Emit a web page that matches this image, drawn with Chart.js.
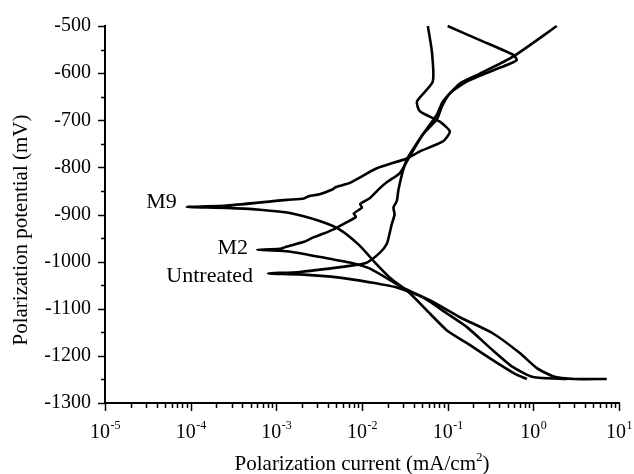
<!DOCTYPE html>
<html>
<head>
<meta charset="utf-8">
<script src="https://cdn.jsdelivr.net/npm/chart.js@4/dist/chart.umd.min.js"></script>
<style>
  body { margin: 0; background: #fff; }
</style>
</head>
<body>
<canvas id="polChart" width="634" height="474"></canvas>
<script>
// curves run from the cathodic end (-1250 mV) through Ecorr up to -500 mV
let m9Current = [0.84, 0.61, 0.336, 0.168, 0.098, 0.062, 0.0362, 0.0212, 0.0142, 0.0094, 0.0055, 0.0032, 0.00144, 0.00064, 0.000265, 0.00009,
  0.000265, 0.00133, 0.0021, 0.0024, 0.0032, 0.0045, 0.0049, 0.0072, 0.0149, 0.0334, 0.0474, 0.088, 0.106, 0.081, 0.0474, 0.0438, 0.067, 0.0655, 0.0587];
let m9Potential = [-1249, -1238, -1209, -1173, -1146, -1110, -1067, -1034, -1002, -966, -932, -914, -897, -890, -886, -884,
  -881, -869, -866, -861, -857, -847, -842, -833, -802, -781, -766, -745, -724, -703, -681, -660, -618, -555, -500];

let m2Current = [7.2, 3.05, 1.69, 1.10, 0.695, 0.336, 0.139, 0.062, 0.030, 0.0124, 0.0072, 0.0042, 0.00174, 0.0011, 0.000594,
  0.0011, 0.00133, 0.0021, 0.00267, 0.0035, 0.00457, 0.00667, 0.0085, 0.0080, 0.0100, 0.0095, 0.0124, 0.0162, 0.0200, 0.0277, 0.0362,
  0.0514, 0.0748, 0.0855, 0.106, 0.159, 0.31, 0.53, 0.64, 0.58, 0.238, 0.1];
let m2Potential = [-1249, -1249, -1243, -1226, -1194, -1152, -1118, -1082, -1055, -1015, -1002, -994, -981, -977, -975,
  -973, -968, -958, -949, -941, -932, -916, -905, -898, -885, -878, -865, -844, -830, -812, -776,
  -730, -698, -671, -643, -620, -597, -580, -572, -561, -530, -500];

let untreatedCurrent = [2.46, 0.99, 0.58, 0.336, 0.168, 0.098, 0.0514, 0.0255, 0.0124, 0.0055, 0.00188, 0.0008,
  0.00188, 0.0078, 0.0114, 0.0162, 0.0195, 0.0210, 0.0223, 0.0240, 0.0233, 0.0255, 0.0265, 0.0277, 0.030, 0.0334,
  0.050, 0.0748, 0.088, 0.139, 0.238, 0.58, 1.88];
let untreatedPotential = [-1249, -1245, -1224, -1188, -1139, -1110, -1076, -1055, -1044, -1034, -1027, -1025,
  -1022, -1008, -1002, -981, -962, -940, -920, -900, -885, -871, -850, -833, -808, -783,
  -733, -688, -660, -622, -601, -565, -500];

let seriesNames = ["M9", "M2", "Untreated"];
let xDecades = [1e-5, 1e-4, 1e-3, 1e-2, 1e-1, 1e0, 1e1];
let xExponents = ["-5", "-4", "-3", "-2", "-1", "0", "1"];
let yTickValues = [-1300, -1200, -1100, -1000, -900, -800, -700, -600, -500];

function toPoints(xs, ys) {
  return xs.map((x, i) => ({x: x, y: ys[i]}));
}

function lineSet(label, xs, ys) {
  return {
    label: label,
    data: toPoints(xs, ys),
    showLine: true,
    borderColor: '#000',
    backgroundColor: '#000',
    borderWidth: 2.6,
    pointRadius: 0,
    tension: 0.2,
    clip: false
  };
}

const serif = 'Liberation Serif, Times New Roman, serif';

// tick marks, x labels with exponents, axis titles and curve labels
const decorPlugin = {
  id: 'decor',
  afterDraw(chart) {
    const ctx = chart.ctx;
    const xs = chart.scales.x, ys = chart.scales.y;
    const area = chart.chartArea;
    ctx.save();
    ctx.strokeStyle = '#000';
    ctx.fillStyle = '#000';
    ctx.lineWidth = 1.5;

    // y ticks every 50, long at hundreds
    for (let v = -1300; v <= -500; v += 50) {
      const py = Math.round(ys.getPixelForValue(v)) + 0.5;
      const len = (v % 100 === 0) ? 7 : 4;
      ctx.beginPath();
      ctx.moveTo(area.left, py);
      ctx.lineTo(area.left - len, py);
      ctx.stroke();
    }

    // x ticks, decades long, 2..9 short
    xDecades.forEach((d, k) => {
      const px = Math.round(xs.getPixelForValue(d)) + 0.5;
      ctx.beginPath();
      ctx.moveTo(px, area.bottom);
      ctx.lineTo(px, area.bottom + 8);
      ctx.stroke();
      if (k < xDecades.length - 1) {
        for (let m = 2; m <= 9; m++) {
          const mx = Math.round(xs.getPixelForValue(d * m)) + 0.5;
          ctx.beginPath();
          ctx.moveTo(mx, area.bottom);
          ctx.lineTo(mx, area.bottom + 5);
          ctx.stroke();
        }
      }
      // label 10^k
      const bigFont = '20px ' + serif, smallFont = '12px ' + serif;
      ctx.font = bigFont;
      const wBase = ctx.measureText('10').width;
      ctx.font = smallFont;
      const wExp = ctx.measureText(xExponents[k]).width;
      const start = xs.getPixelForValue(d) - (wBase + wExp) / 2;
      ctx.textAlign = 'left';
      ctx.textBaseline = 'alphabetic';
      ctx.font = bigFont;
      ctx.fillText('10', start, 438);
      ctx.font = smallFont;
      ctx.fillText(xExponents[k], start + wBase + 0.5, 429);
    });

    // x title with superscript 2
    ctx.font = '21px ' + serif;
    const t1 = 'Polarization current (mA/cm', t3 = ')';
    const w1 = ctx.measureText(t1).width, w3 = ctx.measureText(t3).width;
    ctx.font = '13px ' + serif;
    const w2 = ctx.measureText('2').width;
    let sx = (area.left + area.right) / 2 - (w1 + w2 + w3) / 2;
    ctx.font = '21px ' + serif;
    ctx.fillText(t1, sx, 470);
    ctx.font = '13px ' + serif;
    ctx.fillText('2', sx + w1, 461);
    ctx.font = '21px ' + serif;
    ctx.fillText(t3, sx + w1 + w2, 470);

    // y title
    ctx.save();
    ctx.translate(27, 230);
    ctx.rotate(-Math.PI / 2);
    ctx.textAlign = 'center';
    ctx.font = '21px ' + serif;
    ctx.fillText('Polarization potential (mV)', 0, 0);
    ctx.restore();

    // curve names next to each corrosion-potential spike
    const offsets = [[-10, 1], [-9, 4], [-15, 9]];
    ctx.font = '22px ' + serif;
    ctx.textAlign = 'right';
    chart.data.datasets.forEach((ds, i) => {
      let tip = ds.data[0];
      ds.data.forEach(p => { if (p.x < tip.x) tip = p; });
      const px = xs.getPixelForValue(tip.x) + offsets[i][0];
      const py = ys.getPixelForValue(tip.y) + offsets[i][1];
      ctx.fillText(seriesNames[i], px, py);
    });
    ctx.restore();
  }
};

let polChart = new Chart(document.getElementById('polChart'), {
  type: 'scatter',
  data: {
    datasets: [
      lineSet(seriesNames[0], m9Current, m9Potential),
      lineSet(seriesNames[1], m2Current, m2Potential),
      lineSet(seriesNames[2], untreatedCurrent, untreatedPotential)
    ]
  },
  options: {
    responsive: false,
    animation: false,
    devicePixelRatio: 1,
    layout: {padding: {top: 24, right: 15, left: 0, bottom: 0}},
    plugins: {
      legend: {display: false},
      tooltip: {enabled: false}
    },
    scales: {
      x: {
        type: 'logarithmic',
        min: 1e-5,
        max: 10,
        grid: {display: true, drawOnChartArea: false, drawTicks: false},
        border: {display: true, color: '#000', width: 2},
        ticks: {display: false},
        afterFit: s => { s.height = 71; }
      },
      y: {
        type: 'linear',
        min: -1300,
        max: -500,
        grid: {display: true, drawOnChartArea: false, drawTicks: false},
        border: {display: true, color: '#000', width: 2},
        afterBuildTicks: s => { s.ticks = yTickValues.map(v => ({value: v})); },
        ticks: {
          padding: 14,
          color: '#000',
          font: {family: serif, size: 20},
          callback: v => String(v)
        },
        afterFit: s => { s.width = 105; }
      }
    }
  },
  plugins: [decorPlugin]
});
</script>
</body>
</html>
